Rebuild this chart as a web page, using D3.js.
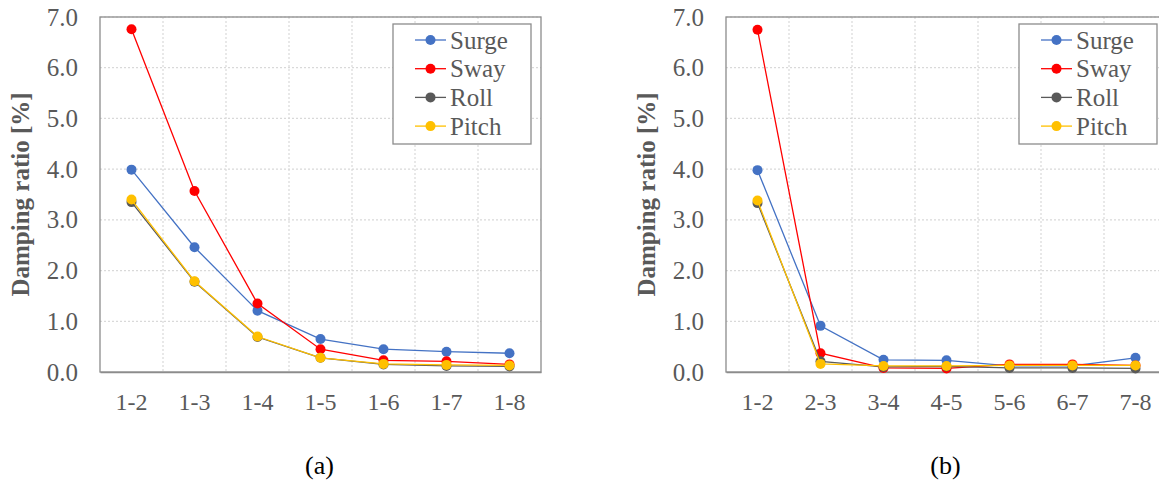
<!DOCTYPE html>
<html>
<head>
<meta charset="utf-8">
<script src="https://cdn.jsdelivr.net/npm/d3@7"></script>
<style>
  html, body { margin: 0; padding: 0; background: #fff; }
  svg { display: block; }
  svg text { font-family: "Liberation Serif", "Times New Roman", Tinos, "DejaVu Serif", serif; }
</style>
</head>
<body>
<svg id="chart" width="1159" height="484"></svg>
<script>
// Modal damping ratios for two pairing schemes
const catsA = ["1-2", "1-3", "1-4", "1-5", "1-6", "1-7", "1-8"];
const catsB = ["1-2", "2-3", "3-4", "4-5", "5-6", "6-7", "7-8"];

const surgeA = [3.99, 2.46, 1.21, 0.65, 0.45, 0.40, 0.37];
const swayA  = [6.76, 3.57, 1.35, 0.45, 0.23, 0.21, 0.15];
const rollA  = [3.35, 1.78, 0.69, 0.28, 0.15, 0.12, 0.11];
const pitchA = [3.40, 1.79, 0.70, 0.28, 0.16, 0.14, 0.13];

const surgeB = [3.98, 0.91, 0.24, 0.23, 0.12, 0.12, 0.28];
const swayB  = [6.75, 0.37, 0.08, 0.07, 0.15, 0.15, 0.13];
const rollB  = [3.33, 0.21, 0.10, 0.11, 0.08, 0.08, 0.07];
const pitchB = [3.38, 0.16, 0.12, 0.12, 0.13, 0.13, 0.13];

const seriesNames = ["Surge", "Sway", "Roll", "Pitch"];
const seriesColors = ["#4472C4", "#FF0000", "#595959", "#FFC000"];
const yTicks = [0, 1, 2, 3, 4, 5, 6, 7];
const yTitle = "Damping ratio [%]";
const panelLabels = ["(a)", "(b)"];

const svg = d3.select("#chart");

function drawPanel(offsetX, cats, values, label) {
  const left = 100 + offsetX, right = 541 + offsetX, top = 17, bottom = 372;
  const g = svg.append("g");

  const x = d3.scaleBand().domain(cats).range([left, right]);
  const y = d3.scaleLinear().domain([0, 7]).range([bottom, top]);

  // horizontal grid
  g.append("g").selectAll("line").data(yTicks.filter(t => t > 0)).join("line")
    .attr("x1", left).attr("x2", right)
    .attr("y1", d => y(d)).attr("y2", d => y(d))
    .attr("stroke", "#d9d9d9").attr("stroke-width", 1.2).attr("stroke-dasharray", "2,2");

  // vertical grid at category boundaries
  g.append("g").selectAll("line").data(cats.slice(1)).join("line")
    .attr("x1", d => x(d)).attr("x2", d => x(d))
    .attr("y1", top).attr("y2", bottom)
    .attr("stroke", "#d9d9d9").attr("stroke-width", 1.2).attr("stroke-dasharray", "2,2");

  // plot frame
  g.append("rect")
    .attr("x", left).attr("y", top).attr("width", right - left).attr("height", bottom - top)
    .attr("fill", "none").attr("stroke", "#8c8c8c").attr("stroke-width", 1.3);

  // y axis labels
  const yAxis = d3.axisLeft(y).tickValues(yTicks).tickFormat(d3.format(".1f")).tickSize(0).tickPadding(22);
  const ya = g.append("g").attr("transform", `translate(${left},0)`).call(yAxis);
  ya.attr("font-family", null);
  ya.select(".domain").remove();
  ya.selectAll("text").attr("font-size", 25).attr("fill", "#595959");

  // x axis
  const xAxis = d3.axisBottom(x).tickSize(0).tickPadding(21);
  const xa = g.append("g").attr("transform", `translate(0,${bottom})`).call(xAxis);
  xa.attr("font-family", null);
  xa.select(".domain").attr("stroke", "#8c8c8c").attr("stroke-width", 1.5);
  xa.selectAll("text").attr("font-size", 24).attr("fill", "#595959");

  // y title
  g.append("text")
    .attr("transform", `translate(${offsetX + 29},${(top + bottom) / 2}) rotate(-90)`)
    .attr("text-anchor", "middle")
    .attr("font-size", 25).attr("font-weight", "bold").attr("fill", "#595959")
    .text(yTitle);

  // series
  const line = d3.line().x((d, i) => x(cats[i]) + x.bandwidth() / 2).y(d => y(d));
  values.forEach((vals, s) => {
    const sg = g.append("g");
    sg.append("path").datum(vals)
      .attr("d", line).attr("fill", "none")
      .attr("stroke", seriesColors[s]).attr("stroke-width", 1.3);
    sg.selectAll("circle").data(vals).join("circle")
      .attr("cx", (d, i) => x(cats[i]) + x.bandwidth() / 2)
      .attr("cy", d => y(d))
      .attr("r", 5)
      .attr("fill", seriesColors[s]);
  });

  // legend
  const lx = 393 + offsetX, ly = 24, lw = 138, lh = 120;
  const lg = g.append("g");
  lg.append("rect").attr("x", lx).attr("y", ly).attr("width", lw).attr("height", lh)
    .attr("fill", "#fff").attr("stroke", "#8c8c8c").attr("stroke-width", 1.3);
  seriesNames.forEach((name, s) => {
    const cy = 40 + s * 28.7;
    lg.append("line").attr("x1", lx + 22).attr("x2", lx + 53).attr("y1", cy).attr("y2", cy)
      .attr("stroke", seriesColors[s]).attr("stroke-width", 1.3);
    lg.append("circle").attr("cx", lx + 37.5).attr("cy", cy).attr("r", 5).attr("fill", seriesColors[s]);
    lg.append("text").attr("x", lx + 57).attr("y", cy).attr("dy", "0.35em")
      .attr("font-size", 25).attr("fill", "#595959").text(name);
  });

  // panel caption
  g.append("text")
    .attr("x", (left + right) / 2 - 1).attr("y", 474)
    .attr("text-anchor", "middle").attr("font-size", 26).attr("fill", "#000")
    .text(label);
}

drawPanel(0, catsA, [surgeA, swayA, rollA, pitchA], panelLabels[0]);
drawPanel(626, catsB, [surgeB, swayB, rollB, pitchB], panelLabels[1]);
</script>
</body>
</html>
